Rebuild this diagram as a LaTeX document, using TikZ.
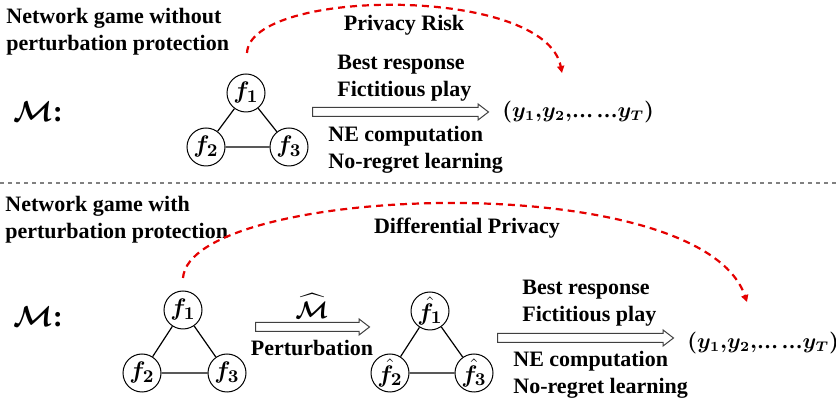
\documentclass[tikz,border=0pt]{standalone}
\usepackage{fontspec}
\setmainfont{Liberation Serif}
\usepackage{amsmath,bm}
\usetikzlibrary{arrows.meta,shapes.arrows}

\tikzset{
  pl/.style={circle,draw,line width=0.5pt,minimum size=19pt,inner sep=0pt,font=\fontsize{13}{15}\selectfont},
  txt/.style={align=left,inner sep=0pt,font=\fontsize{11}{13.5}\selectfont\bfseries},
  big/.style={single arrow,draw=black!75,line width=0.5pt,inner sep=2pt,
    single arrow head extend=1.75pt,single arrow tip angle=75,minimum height=#1,anchor=tail},
  risk/.style={red!90!black,line width=1.1pt,dash pattern=on 3.5pt off 2.5pt,
    -{Triangle[length=3.5pt,width=3.5pt]}},
  ys/.style={font=\fontsize{10.5}{13}\selectfont,anchor=west,inner sep=0pt}
}
\newcommand{\yseq}{$\bm{(}\bm{y_1}{\bm{,}}\bm{y_2}{\bm{,}}$\textbf{…\,…}$\bm{y_T}\bm{)}$}

\begin{document}
\begin{tikzpicture}[x=0.5pt,y=-0.5pt]
  \useasboundingbox (0,0) rectangle (836,405);
  % top: no protection
  \node[txt,anchor=west] (t1) at (6,32) {Network game without\\perturbation protection};
  \node[font=\fontsize{15}{18}\selectfont] (m1) at (38,112) {$\bm{\mathcal{M}}$\textbf{:}};
  \foreach \i/\x/\y in {1/246/93,2/206/147,3/289/147}{
    \node[pl] (a\i) at (\x,\y) {$\bm{f_{\i}}$};
  }
  \draw[line width=0.6pt] (a1) -- (a2) -- (a3) -- (a1);
  \node[big=88pt] (ar1) at (312,112) {};
  \node[txt,anchor=west] (b1) at (337,78.5) {Best response\\Fictitious play};
  \node[txt,anchor=west] (c1) at (328,149.5) {NE computation\\No-regret learning};
  \node[ys] (y1) at (502,112) {\yseq};
  \node[txt] (p1) at (404,25) {Privacy Risk};
  \coordinate (s1) at (247,53);
  \coordinate (e1) at (562,73);
  \draw[risk] (s1) .. controls (250,-12) and (545,-15) .. (e1);

  \draw[gray,line width=0.6pt,dash pattern=on 2pt off 2pt] (0,183) -- (836,183);

  % bottom: with protection
  \node[txt,anchor=west] (t2) at (5,220) {Network game with\\perturbation protection};
  \node[font=\fontsize{15}{18}\selectfont] (m2) at (38,317) {$\bm{\mathcal{M}}$\textbf{:}};
  \foreach \i/\x/\y in {1/183/310,2/142/373,3/227/373}{
    \node[pl] (b\i) at (\x,\y) {$\bm{f_{\i}}$};
  }
  \draw[line width=0.6pt] (b1) -- (b2) -- (b3) -- (b1);
  \node[big=57pt] (ar2) at (255,327) {};
  \node[font=\fontsize{12}{14}\selectfont] (mh) at (312,306) {$\widehat{\bm{\mathcal{M}}}$};
  \node[txt] (pt) at (312,348) {Perturbation};
  \foreach \i/\x/\y in {1/430/311,2/390/373,3/474/373}{
    \node[pl] (h\i) at (\x,\y) {$\bm{\hat{f}_{\i}}$};
  }
  \draw[line width=0.6pt] (h1) -- (h2) -- (h3) -- (h1);
  \node[big=88pt] (ar3) at (497,338) {};
  \node[txt,anchor=west] (b2) at (522,303.5) {Best response\\Fictitious play};
  \node[txt,anchor=west] (c2) at (513,375) {NE computation\\No-regret learning};
  \node[ys] (y2) at (687,343) {\yseq};
  \node[txt] (p2) at (467,228) {Differential Privacy};
  \coordinate (s2) at (183,278);
  \coordinate (e2) at (747,302);
  \draw[risk] (s2) .. controls (190,185) and (700,165) .. (e2);
\end{tikzpicture}
\end{document}
